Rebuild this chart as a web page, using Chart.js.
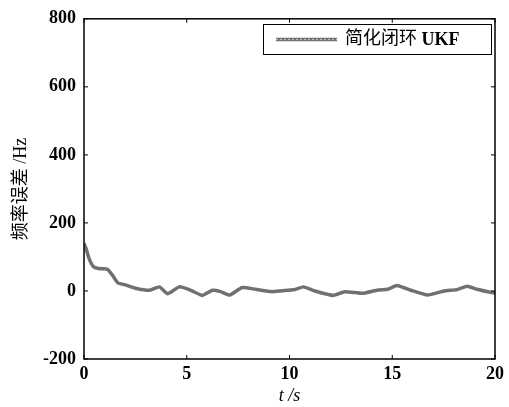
<!DOCTYPE html>
<html><head><meta charset="utf-8">
<script src="https://cdn.jsdelivr.net/npm/chart.js@4.4.1/dist/chart.umd.min.js"></script>
<style>html,body{margin:0;padding:0;background:#fff}#wrap{width:509px;height:407px}</style>
</head><body><div id="wrap"><canvas id="c" width="509" height="407"></canvas></div>
<script>
const timeS = [0, 0.1, 0.25, 0.45, 0.7, 1.0, 1.16, 1.4, 1.64, 2.0, 2.5, 3.2, 3.67, 4.07, 4.64, 5.2, 5.76, 6.25, 6.65, 7.09, 7.7, 8.34, 9.15, 9.47, 10.27, 10.68, 11.24, 12.13, 12.69, 13.57, 14.3, 14.78, 15.23, 15.91, 16.71, 17.52, 18.16, 18.64, 19.13, 19.85, 20];
const errorHz = [140, 125, 95, 72, 66, 65, 63, 45, 24, 18, 8, 2, 12, -8, 12, 2, -13, 2, -2, -12, 10, 5, -2, 0, 4, 12, 0, -13, -2, -7, 3, 5, 16, 2, -12, 0, 4, 14, 5, -5, -6];
const xTicks = [0, 5, 10, 15, 20];
const yTicks = [-200, 0, 200, 400, 600, 800];
const seriesName = '简化闭环 UKF';
const xTitle = 't /s';
const yTitle = '频率误差 /Hz';

const pts = timeS.map((t, i) => ({x: t, y: errorHz[i]}));
const serif = '"Liberation Serif", "Noto Sans CJK SC", serif';

const framePlugin = {
  id: 'frame',
  afterDatasetsDraw(chart) {
    const {ctx, chartArea: a, scales} = chart;
    ctx.save();
    ctx.strokeStyle = '#000';
    ctx.lineWidth = 1.5;
    ctx.strokeRect(a.left, a.top, a.right - a.left, a.bottom - a.top);
    ctx.lineWidth = 1;
    ctx.beginPath();
    xTicks.forEach(v => {
      const x = scales.x.getPixelForValue(v);
      ctx.moveTo(x, a.bottom); ctx.lineTo(x, a.bottom - 4);
      ctx.moveTo(x, a.top); ctx.lineTo(x, a.top + 4);
    });
    yTicks.forEach(v => {
      const y = scales.y.getPixelForValue(v);
      ctx.moveTo(a.left, y); ctx.lineTo(a.left + 4, y);
      ctx.moveTo(a.right, y); ctx.lineTo(a.right - 4, y);
    });
    ctx.stroke();
    // legend
    const bx = 263, by = 24, bw = 228, bh = 30;
    ctx.fillStyle = '#fff';
    ctx.fillRect(bx, by, bw, bh);
    ctx.lineWidth = 1;
    ctx.strokeRect(bx + 0.5, by + 0.5, bw, bh);
    const ly = by + bh / 2 + 0.5;
    ctx.lineWidth = 3.5; ctx.strokeStyle = '#707070';
    ctx.beginPath(); ctx.moveTo(276, ly); ctx.lineTo(337, ly); ctx.stroke();
    ctx.lineWidth = 1.2; ctx.strokeStyle = '#bdbdbd'; ctx.setLineDash([2, 2]);
    ctx.beginPath(); ctx.moveTo(276, ly); ctx.lineTo(337, ly); ctx.stroke();
    ctx.setLineDash([]);
    ctx.fillStyle = '#000';
    ctx.font = '18px ' + serif;
    ctx.textBaseline = 'middle';
    ctx.textAlign = 'left';
    ctx.fillText('简化闭环 ', 345, ly);
    const w = ctx.measureText('简化闭环 ').width;
    ctx.font = 'bold 18px ' + serif;
    ctx.fillText('UKF', 345 + w, ly + 1);
    ctx.restore();
  }
};

new Chart(document.getElementById('c'), {
  type: 'line',
  data: {
    datasets: [
      {label: seriesName, data: pts, borderColor: '#707070', borderWidth: 3.5, pointRadius: 0, tension: 0.15, fill: false},
      {label: seriesName + ' texture', data: pts, borderColor: '#bdbdbd', borderWidth: 1.2, borderDash: [2, 2], pointRadius: 0, tension: 0.15, fill: false}
    ]
  },
  options: {
    responsive: false,
    animation: false,
    layout: {padding: {top: 14, right: 11, left: 0, bottom: 0}},
    plugins: {legend: {display: false}, tooltip: {enabled: false}},
    scales: {
      x: {
        type: 'linear', min: 0, max: 20,
        afterBuildTicks: s => { s.ticks = xTicks.map(v => ({value: v})); },
        afterFit: s => { s.height = 48; },
        grid: {display: false, drawTicks: false},
        border: {display: false},
        ticks: {color: '#000', font: {family: serif, size: 18, weight: 'bold'}, padding: 5, maxRotation: 0},
        title: {display: true, text: xTitle, color: '#000', font: {family: serif, size: 18, style: 'italic'}, padding: {top: 0, bottom: 0}}
      },
      y: {
        min: -200, max: 800,
        afterBuildTicks: s => { s.ticks = yTicks.map(v => ({value: v})); },
        afterFit: s => { s.width = 84; },
        grid: {display: false, drawTicks: false},
        border: {display: false},
        ticks: {color: '#000', font: {family: serif, size: 18, weight: 'bold'}, padding: 8},
        title: {display: true, text: yTitle, color: '#000', font: {family: serif, size: 18}, padding: {top: 10, bottom: 4}}
      }
    }
  },
  plugins: [framePlugin]
});
</script>
</body></html>
